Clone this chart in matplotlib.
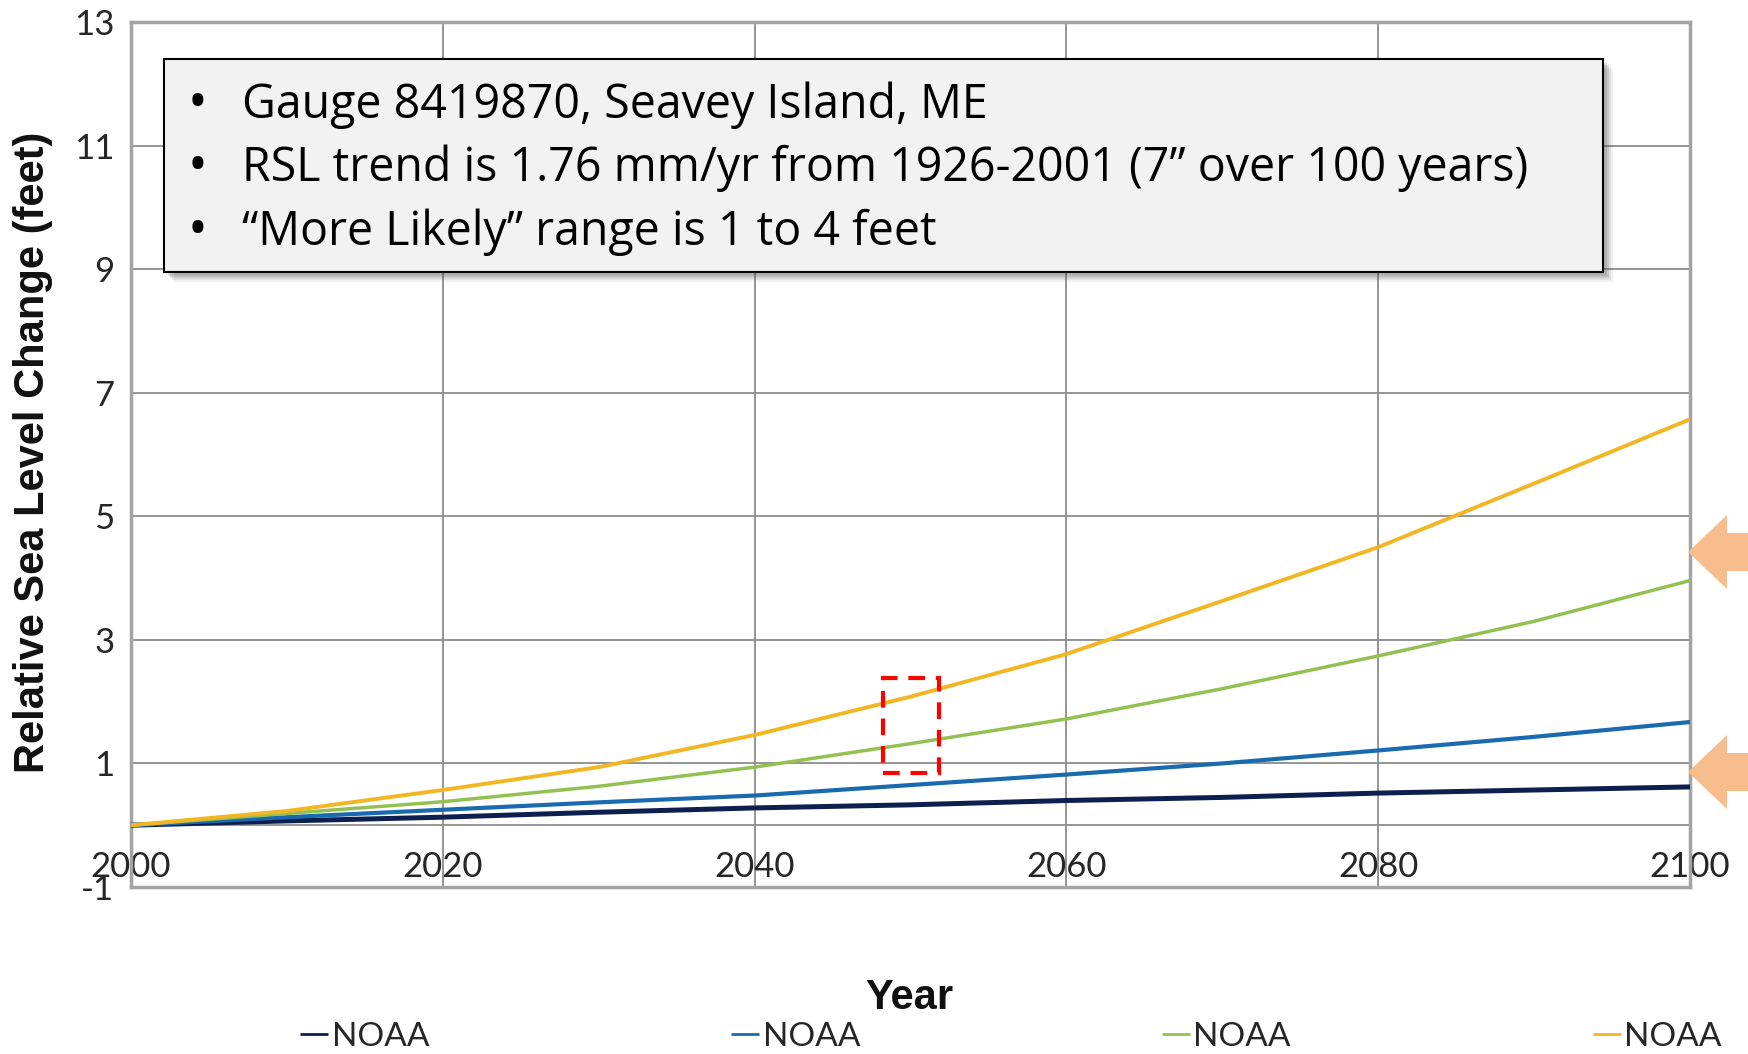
import matplotlib.pyplot as plt
from matplotlib.patches import Rectangle, Polygon

plt.rcParams['axes.unicode_minus'] = False

# NOAA relative sea level scenarios, feet above 2000 level
years = [2000, 2010, 2020, 2030, 2040, 2050, 2060, 2070, 2080, 2090, 2100]
noaa_historic = [0, 0.07, 0.13, 0.21, 0.28, 0.33, 0.40, 0.45, 0.52, 0.57, 0.62]
noaa_int_low = [0, 0.13, 0.25, 0.37, 0.48, 0.65, 0.82, 1.00, 1.21, 1.43, 1.67]
noaa_int_high = [0, 0.19, 0.38, 0.63, 0.94, 1.32, 1.72, 2.21, 2.74, 3.30, 3.96]
noaa_high = [0, 0.23, 0.57, 0.94, 1.46, 2.08, 2.77, 3.63, 4.50, 5.53, 6.57]

series_labels = ['NOAA', 'NOAA', 'NOAA', 'NOAA']
series_colors = ['#0d1f4f', '#1a6ab0', '#93c151', '#f2b622']
series_widths = [3.6, 3.0, 2.5, 2.8]

y_ticks = [-1, 1, 3, 5, 7, 9, 11, 13]
x_ticks = [2000, 2020, 2040, 2060, 2080, 2100]

info_lines = [
    'Gauge 8419870, Seavey Island, ME',
    'RSL trend is 1.76 mm/yr from 1926-2001 (7\u201d over 100 years)',
    '\u201cMore Likely\u201d range is 1 to 4 feet',
]

# highlighted window around mid-century
focus_years = (2048.25, 2051.8)
focus_feet = (0.84, 2.38)

W, H = 1748, 1054
TEXT = '#262626'
TICK_FONT = ['Lato', 'DejaVu Sans']
BOX_FONT = ['Open Sans', 'DejaVu Sans']
BOLD_FONT = ['Liberation Sans Narrow', 'Liberation Sans', 'DejaVu Sans']


def px(x, y):
    """pixel position (from top-left) -> figure fraction"""
    return (x / W, 1 - y / H)


fig = plt.figure(figsize=(W / 100, H / 100), dpi=100, facecolor='white')
ax = fig.add_axes([131 / W, 1 - 887 / H, 1559 / W, 865 / H])

all_series = [noaa_historic, noaa_int_low, noaa_int_high, noaa_high]
for vals, lab, col, lw in zip(all_series, series_labels, series_colors, series_widths):
    ax.plot(years, vals, color=col, lw=lw, label=lab, solid_capstyle='butt', zorder=3)

ax.set_xlim(2000, 2100)
ax.set_ylim(-1, 13)
ax.set_xticks(x_ticks)
ax.set_yticks(y_ticks)
ax.grid(True, color='#8c8c8c', lw=1.3, zorder=1)
ax.axhline(0, color='#8c8c8c', lw=1.3, zorder=1)
ax.set_axisbelow(True)
for sp in ax.spines.values():
    sp.set_color('#a3a3a3')
    sp.set_linewidth(2.5)

ax.tick_params(axis='both', length=0, labelsize=25, labelcolor=TEXT)
ax.tick_params(axis='x', pad=-26)
ax.tick_params(axis='y', pad=12)
for lbl in ax.get_xticklabels() + ax.get_yticklabels():
    lbl.set_family(TICK_FONT)

# red dashed box on the 2050 values
ax.add_patch(Rectangle((focus_years[0], focus_feet[0]),
                       focus_years[1] - focus_years[0], focus_feet[1] - focus_feet[0],
                       fill=False, edgecolor='#ff0000', lw=3, linestyle=(0, (4, 2.6)),
                       zorder=5))

fig.text(*px(33, 452), 'Relative Sea Level Change (feet)', rotation=90,
         ha='center', va='center', fontsize=30, fontweight='bold',
         family=BOLD_FONT, color='#111111')
fig.text(*px(909, 998), 'Year', ha='center', va='center', fontsize=30,
         fontweight='bold', family=BOLD_FONT, color='#111111')

# info box with soft drop shadow
bx0, by0, bx1, by1 = 164, 59, 1603, 272
for off, alpha in [(10, 0.08), (8, 0.12), (6, 0.16), (4, 0.2)]:
    fig.patches.append(Rectangle(px(bx0 + off, by1 + off), (bx1 - bx0) / W, (by1 - by0) / H,
                                 transform=fig.transFigure, facecolor='#555555',
                                 edgecolor='none', alpha=alpha, zorder=5))
fig.patches.append(Rectangle(px(bx0, by1), (bx1 - bx0) / W, (by1 - by0) / H,
                             transform=fig.transFigure, facecolor='#f2f2f2',
                             edgecolor='black', lw=1.5, zorder=6))
for i, line in enumerate(info_lines):
    ty = 105 + i * 63.5
    fig.text(*px(197, ty), '\u2022', ha='center', va='center', fontsize=38,
             family=BOX_FONT, color='black', zorder=7)
    fig.text(*px(242, ty), line, ha='left', va='center', fontsize=33.5,
             family=BOX_FONT, color='black', zorder=7)

# orange arrows marking the likely range at 2100
for tip_y in (552, 772):
    pts = [(1688, tip_y), (1727, tip_y - 37), (1727, tip_y - 19), (1748, tip_y - 19),
           (1748, tip_y + 19), (1727, tip_y + 19), (1727, tip_y + 37)]
    fig.patches.append(Polygon([px(x, y) for x, y in pts], closed=True,
                               transform=fig.transFigure, facecolor='#f8bd8c',
                               edgecolor='none', zorder=8))

leg = fig.legend(loc='center left', bbox_to_anchor=px(300, 1037), ncol=4,
                 frameon=False, handlelength=0.85, handletextpad=0.1,
                 columnspacing=9.05, borderpad=0, borderaxespad=0,
                 prop={'family': TICK_FONT, 'size': 24})
for h in leg.legend_handles:
    h.set_linewidth(2)
for t in leg.get_texts():
    t.set_color(TEXT)

fig.savefig('out.png', dpi=100, facecolor='white')
